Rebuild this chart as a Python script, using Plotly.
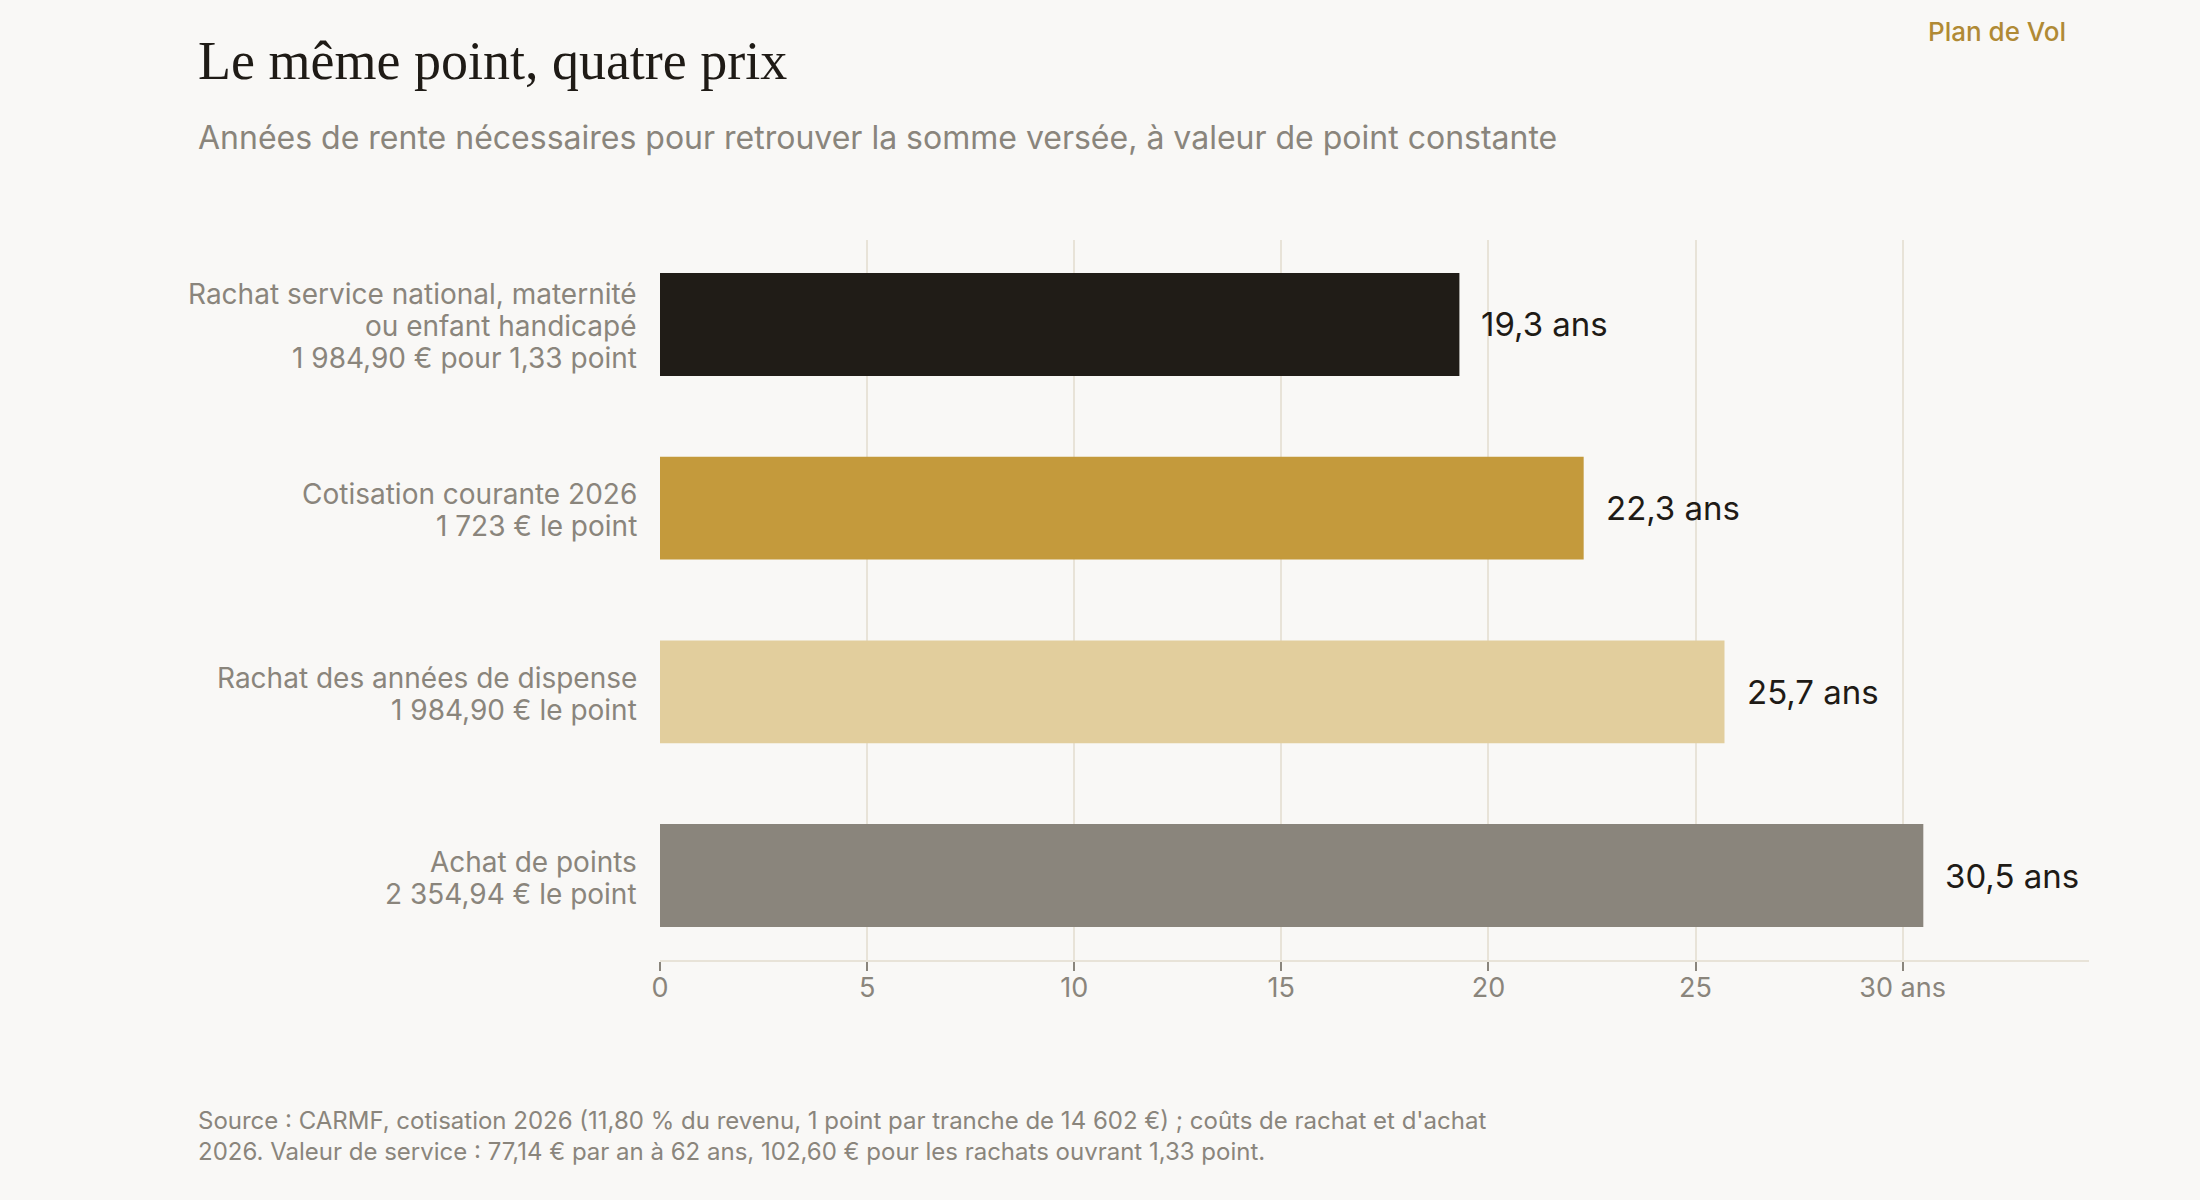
import plotly.graph_objects as go

categories = [
    "Rachat service national",
    "Cotisation courante 2026",
    "Rachat des années de dispense",
    "Achat de points",
]
category_lines = [
    ["Rachat service national, maternité", "ou enfant handicapé", "1 984,90 € pour 1,33 point"],
    ["Cotisation courante 2026", "1 723 € le point"],
    ["Rachat des années de dispense", "1 984,90 € le point"],
    ["Achat de points", "2 354,94 € le point"],
]
years = [19.3, 22.3, 25.7, 30.5]
value_labels = ["19,3 ans", "22,3 ans", "25,7 ans", "30,5 ans"]
bar_colors = ["#201c17", "#c49a3c", "#e2ce9d", "#8a857c"]
tick_vals = [0, 5, 10, 15, 20, 25, 30]
tick_text = ["0", "5", "10", "15", "20", "25", "30 ans"]

BG = "#f9f8f6"
GREY = "#8a857c"
INK = "#1f1b16"
GRID = "#e8e3d8"
LINE_H = 32

fig = go.Figure(go.Bar(
    y=categories,
    x=years,
    orientation="h",
    marker=dict(color=bar_colors, line=dict(width=0)),
    hoverinfo="skip",
))

# libellés de catégorie, une ligne par annotation pour tenir l'interligne
for cat, lines in zip(categories, category_lines):
    n = len(lines)
    for i, line in enumerate(lines):
        fig.add_annotation(xref="paper", x=0, y=cat, text=line, showarrow=False,
                           xanchor="right", yanchor="middle", xshift=-21,
                           yshift=((n - 1) / 2 - i) * LINE_H - 2,
                           font=dict(family="Inter", size=28, color=GREY))

# étiquettes de valeur au bout des barres
for cat, val, lab in zip(categories, years, value_labels):
    fig.add_annotation(x=val, y=cat, text=lab, showarrow=False,
                       xanchor="left", xshift=20,
                       font=dict(family="Inter", size=33, color=INK))

fig.add_annotation(xref="paper", yref="paper", x=-0.3245, y=1.2486,
                   text="Le même point, quatre prix", showarrow=False,
                   xanchor="left", yanchor="middle",
                   font=dict(family="Liberation Serif", size=54, color=INK))
fig.add_annotation(xref="paper", yref="paper", x=-0.3245, y=1.142,
                   text="Années de rente nécessaires pour retrouver la somme versée, à valeur de point constante",
                   showarrow=False, xanchor="left", yanchor="middle",
                   font=dict(family="Inter", size=32, color=GREY))
fig.add_annotation(xref="paper", yref="paper", x=0.9853, y=1.289,
                   text="Plan de Vol", showarrow=False,
                   xanchor="right", yanchor="middle",
                   font=dict(family="Inter", size=26, color="#b08a35", weight=500))
fig.add_annotation(xref="paper", yref="paper", x=-0.3245, y=-0.2438,
                   text="Source : CARMF, cotisation 2026 (11,80 % du revenu, 1 point par tranche de 14 602 €) ; coûts de rachat et d'achat<br>"
                        "2026. Valeur de service : 77,14 € par an à 62 ans, 102,60 € pour les rachats ouvrant 1,33 point.",
                   showarrow=False, xanchor="left", yanchor="middle", align="left",
                   font=dict(family="Inter", size=24, color=GREY))

fig.update_layout(
    width=2200, height=1200,
    paper_bgcolor=BG, plot_bgcolor=BG,
    margin=dict(l=660, r=111, t=240, b=240),
    bargap=0.44,
    showlegend=False,
    font=dict(family="Inter", color=GREY),
)
fig.update_xaxes(
    range=[0, 34.5],
    tickvals=tick_vals, ticktext=tick_text,
    showgrid=True, gridcolor=GRID, gridwidth=1.5,
    zeroline=False,
    showline=True, linecolor=GRID, linewidth=2,
    ticks="outside", ticklen=9, tickcolor=GREY, tickwidth=2,
    ticklabelstandoff=-6,
    tickfont=dict(family="Inter", size=27, color=GREY),
)
fig.update_yaxes(
    range=[3.46, -0.46],
    showgrid=False, zeroline=False, showline=False,
    ticks="", showticklabels=False,
)

fig.write_html("out.html",
               config={"displayModeBar": False},
               post_script="document.body.style.margin='0';"
                           "document.body.style.background='" + BG + "';")
